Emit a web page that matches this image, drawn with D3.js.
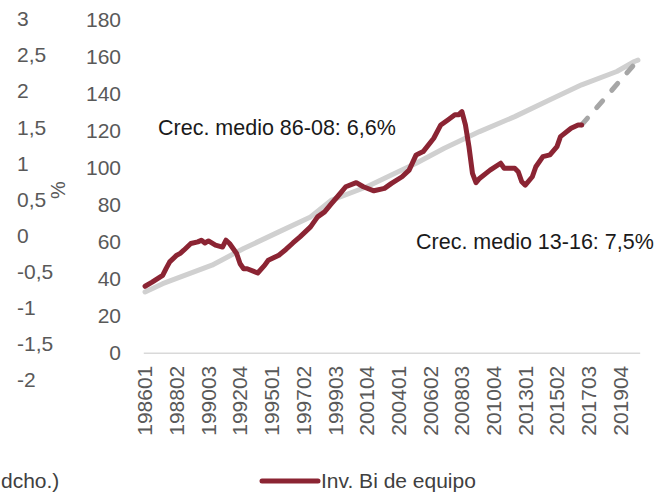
<!DOCTYPE html>
<html>
  <head>
    <meta charset="utf-8">
    <script src="https://d3js.org/d3.v7.min.js"></script>
    <title>Inv. Bi de equipo</title>
    <style>
      body { margin: 0; background: #fff; }
      text { font-family: "Liberation Sans", Arial, sans-serif; }
    </style>
  </head>
  <body>
    <svg width="665" height="495" id="chart"></svg>
    <script>
      // quarterly categories 1986Q1 .. 2021Q1
      var quarters = [];
      for (var yr = 1986; yr <= 2021; yr++) {
        for (var q = 1; q <= 4; q++) {
          if (yr == 2021 && q > 1) break;
          quarters.push(yr + "0" + q);
        }
      }
      var tickLabels = ["198601","198802","199003","199204","199501","199702","199903","200104",
                        "200401","200602","200803","201004","201301","201502","201703","201904"];

      var yTicks = [0, 20, 40, 60, 80, 100, 120, 140, 160, 180];
      var leftTicks = [3, 2.5, 2, 1.5, 1, 0.5, 0, -0.5, -1, -1.5, -2];

      // Inv. Bi de equipo
      var invPeriods = ["198601","198603","198702","198703","198704","198802","198803","198804",
                        "198902","198904","199001","199002","199003","199101","199103","199104",
                        "199201","199203","199204","199301","199302","199401","199403","199404",
                        "199503","199601","199603","199701","199704","199802","199804","199902",
                        "199904","200002","200101","200103","200202","200301","200303","200402",
                        "200404","200502","200504","200603","200701","200703","200801","200802",
                        "200803","200804","200901","200902","200903","200904","201003","201102",
                        "201103","201202","201203","201204","201301","201303","201304","201402",
                        "201404","201502","201503","201602","201604","201701"];
      var invValues = [35.8, 38, 41.7, 45.5, 49, 52.6, 53.6, 55.3,
                       58.9, 59.8, 60.7, 59.2, 60.3, 58, 57, 60.7,
                       58.9, 53.5, 48, 45.3, 45.3, 43, 47.2, 49.9,
                       52.6, 55.7, 59.2, 62.5, 67.9, 73.3, 76, 80.6,
                       85, 89.6, 91.8, 89.6, 87.4, 88.7, 91.4, 95,
                       98.6, 106.8, 108.6, 115.8, 123, 125.7, 128.5, 128.5,
                       130.2, 123, 111.3, 96.8, 91.8, 94.1, 98.6, 102.3,
                       99.6, 99.6, 97.7, 92.3, 90.5, 95, 100.4, 105.9,
                       106.8, 111.3, 116.7, 121.2, 123, 123];

      // average growth trend
      var trendPeriods = ["198601","198702","199004","199301","199503","199704","199902","200104",
                          "200304","200502","200702","200904","201202","201404","201701","201903","202004","202101"];
      var trendValues = [32.7, 37.2, 47.2, 56.2, 65.2, 73.3, 82.4, 89.6,
                         96.9, 102.3, 110.4, 119.4, 127.5, 136.6, 144.7, 151.9, 157.3, 158];

      // projection 13-16
      var projPeriods = ["201701", "202101"];
      var projValues = [123, 158];

      var svg = d3.select("#chart");
      svg.append("rect").attr("width", 665).attr("height", 495).attr("fill", "#fff");

      var x = d3.scaleBand().domain(quarters).range([143.3, 639.7]);
      var y = d3.scaleLinear().domain([0, 180]).range([352.5, 19.5]);
      var yl = d3.scaleLinear().domain([-2, 3]).range([380, 19]);
      var cx = function (p) { return x(p) + x.bandwidth() / 2; };

      var es = d3.formatLocale({ decimal: ",", thousands: ".", grouping: [3], currency: ["", "€"], minus: "-" });

      // axis of the neighbour chart, cut by the left edge
      var gl = svg.append("g")
          .attr("transform", "translate(17,0)")
          .call(d3.axisRight(yl).tickValues(leftTicks).tickSize(0).tickPadding(0).tickFormat(es.format("")));
      gl.select(".domain").remove();
      gl.selectAll("text").attr("fill", "#595959").style("font-size", "21px")
          .style("font-family", "Liberation Sans, Arial, sans-serif");

      svg.append("text")
          .attr("transform", "translate(58,190) rotate(-90)")
          .attr("text-anchor", "middle").attr("dy", "0.35em")
          .attr("fill", "#595959").style("font-size", "20px")
          .text("%");

      svg.append("text")
          .attr("x", 1).attr("y", 488)
          .attr("fill", "#404040").style("font-size", "21px")
          .text("dcho.)");

      // main y axis
      var gy = svg.append("g")
          .attr("transform", "translate(121,0)")
          .call(d3.axisLeft(y).tickValues(yTicks).tickSize(0).tickPadding(0));
      gy.select(".domain").remove();
      gy.selectAll("text").attr("fill", "#595959").style("font-size", "21px")
          .style("font-family", "Liberation Sans, Arial, sans-serif");

      // x axis
      var gx = svg.append("g")
          .attr("transform", "translate(0,352.7)")
          .call(d3.axisBottom(x).tickValues(tickLabels).tickSize(0).tickSizeOuter(0).tickPadding(0));
      gx.select(".domain").attr("stroke", "#d9d9d9").attr("stroke-width", 1.5);
      gx.selectAll("text")
          .attr("fill", "#595959").style("font-size", "21px")
          .style("font-family", "Liberation Sans, Arial, sans-serif")
          .attr("text-anchor", "end")
          .attr("transform", "translate(0,13) rotate(-90)")
          .attr("x", 0).attr("y", 0).attr("dy", "0.35em");

      var line = d3.line()
          .x(function (d) { return cx(d[0]); })
          .y(function (d) { return y(d[1]); });

      svg.append("path")
          .datum(d3.zip(trendPeriods, trendValues))
          .attr("fill", "none").attr("stroke", "#d0d0d0")
          .attr("stroke-width", 5).attr("stroke-linejoin", "round").attr("stroke-linecap", "round")
          .attr("d", line);

      svg.append("path")
          .datum(d3.zip(projPeriods, projValues))
          .attr("fill", "none").attr("stroke", "#a6a6a6")
          .attr("stroke-width", 5).attr("stroke-linecap", "round")
          .attr("stroke-dasharray", "9,14")
          .attr("d", line);

      svg.append("path")
          .datum(d3.zip(invPeriods, invValues))
          .attr("fill", "none").attr("stroke", "#8b2433")
          .attr("stroke-width", 5).attr("stroke-linejoin", "round").attr("stroke-linecap", "round")
          .attr("d", line);

      // annotations
      svg.append("text")
          .attr("x", 158).attr("y", 135)
          .attr("fill", "#1a1a1a").style("font-size", "21.5px")
          .text("Crec. medio 86-08: 6,6%");

      svg.append("text")
          .attr("x", 416).attr("y", 249)
          .attr("fill", "#1a1a1a").style("font-size", "21.5px")
          .text("Crec. medio 13-16: 7,5%");

      // legend
      svg.append("line")
          .attr("x1", 262).attr("x2", 318).attr("y1", 481).attr("y2", 481)
          .attr("stroke", "#8b2433").attr("stroke-width", 5).attr("stroke-linecap", "round");
      svg.append("text")
          .attr("x", 321).attr("y", 488)
          .attr("fill", "#404040").style("font-size", "21px")
          .text("Inv. Bi de equipo");
    </script>
  </body>
</html>
